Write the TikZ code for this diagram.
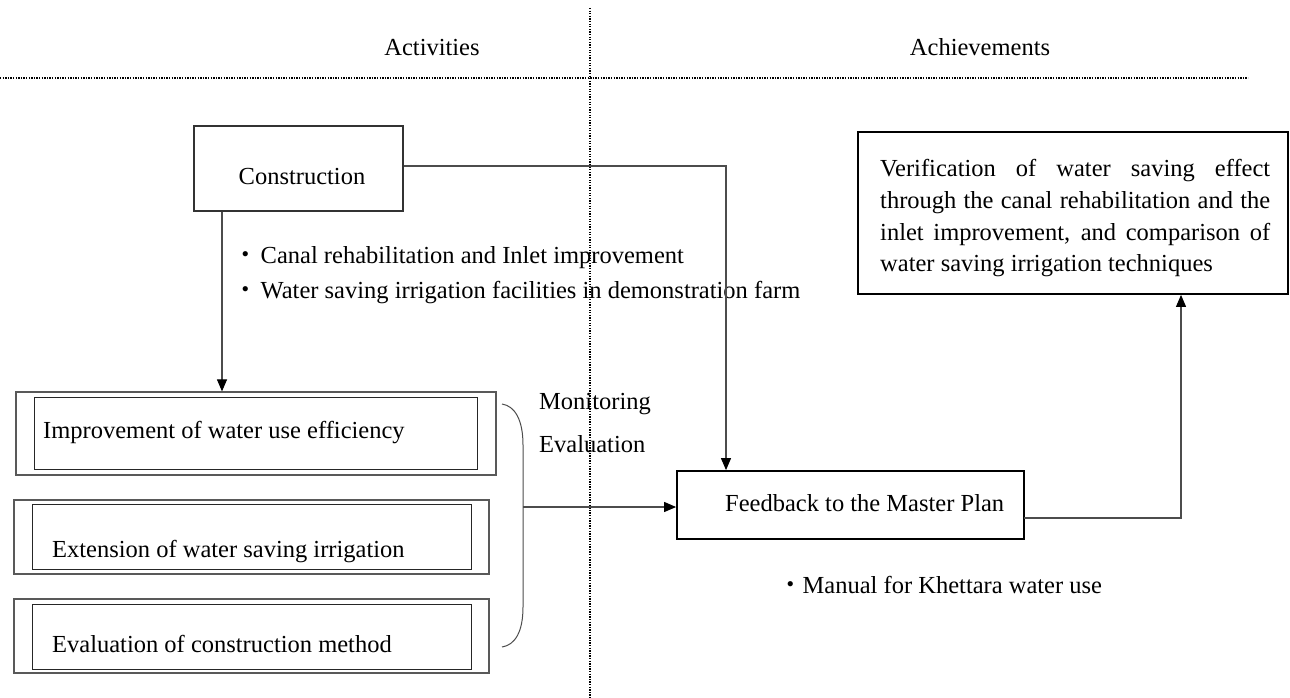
\documentclass[tikz,border=0pt]{standalone}
\usepackage{fontspec}
\setmainfont{Liberation Serif}
\newfontfamily\cjk{Noto Sans CJK JP}
\usetikzlibrary{arrows.meta}
\begin{document}
\begin{tikzpicture}[x=1pt,y=-1pt,
  txt/.style={font=\fontsize{24.5}{32}\selectfont, inner sep=0pt, text height=17pt, text depth=5pt},
  boxA/.style={draw=black!80, line width=1.1pt, inner sep=0pt},
  boxB/.style={draw=black, line width=1.8pt, inner sep=0pt},
  outerbox/.style={draw=black!65, line width=1.2pt, inner sep=0pt},
  innerbox/.style={draw=black!85, line width=1pt, inner sep=0pt},
  conn/.style={draw=black!70, line width=1.1pt},
  arr/.style={conn, -{Triangle[length=12pt,width=10pt,color=black,fill=black]}},
  sep/.style={line width=1.3pt, dash pattern=on 1.3pt off 1.3pt}]
\useasboundingbox (0,0) rectangle (1290,698);

% separators between the two columns
\coordinate (hl) at (0,78);
\coordinate (hr) at (1248,78);
\coordinate (vt) at (590,8);
\coordinate (vb) at (590,698);
\draw[sep] (hl) -- (hr);
\draw[sep] (vt) -- (vb);

% column headings
\node[txt] (hact) at (432,50) {Activities};
\node[txt] (hach) at (980,50) {Achievements};

% construction
\node[boxA, minimum width=209pt, minimum height=85pt] (constr) at (298.5,168.5) {};
\node[txt] (constrt) at (302,178) {Construction};

\node[txt, anchor=west] (b1) at (233,257) {{\cjk ・}\kern3pt Canal rehabilitation and Inlet improvement};
\node[txt, anchor=west] (b2) at (233,292) {{\cjk ・}\kern3pt Water saving irrigation facilities in demonstration farm};

% activity boxes (double frames)
\node[outerbox, minimum width=480pt, minimum height=83pt] (o1) at (256,433.5) {};
\node[innerbox, minimum width=443pt, minimum height=72pt] (i1) at (255.5,433) {};
\node[txt, anchor=west] (t1) at (43,432) {Improvement of water use efficiency};

\node[outerbox, minimum width=475pt, minimum height=74pt] (o2) at (251.5,537) {};
\node[innerbox, minimum width=439pt, minimum height=65pt] (i2) at (251.5,536.5) {};
\node[txt, anchor=west] (t2) at (52,551) {Extension of water saving irrigation};

\node[outerbox, minimum width=475pt, minimum height=74pt] (o3) at (251.5,636) {};
\node[innerbox, minimum width=439pt, minimum height=65pt] (i3) at (251.5,636.5) {};
\node[txt, anchor=west] (t3) at (52,646) {Evaluation of construction method};

% monitoring / evaluation
\node[txt, anchor=west] (mon) at (539,403) {Monitoring};
\node[txt, anchor=west] (eva) at (539,446) {Evaluation};

% feedback
\node[boxB, minimum width=347pt, minimum height=68pt] (fb) at (850.5,505) {};
\node[txt, anchor=west] (fbt) at (725,505) {Feedback to the Master Plan};
\node[txt, anchor=west] (man) at (778,587) {{\cjk ・}Manual for Khettara water use};

% verification
\node[boxB, minimum width=430pt, minimum height=162pt] (ver) at (1073,213) {};
\node[font=\fontsize{24.5}{31.8}\selectfont, inner sep=0pt, anchor=north west, align=left] (vert) at (880,159) {%
  \makebox[390pt][s]{Verification of water saving effect}\\
  \makebox[390pt][s]{through the canal rehabilitation and the}\\
  \makebox[390pt][s]{inlet improvement, and comparison of}\\
  water saving irrigation techniques};

% connectors
\coordinate (cx) at (222,0);
\coordinate (fx) at (726,0);
\coordinate (vx) at (1181,0);
\coordinate (bt) at (502,404);
\coordinate (bb) at (502,647);
\coordinate (bm) at (523,507);
\coordinate (fbo) at (1024,518);

\draw[arr] (constr.south -| cx) -- (o1.north -| cx);
\draw[arr] (constr.east |- 0,166) -| (fb.north -| fx);
\draw[conn, line width=1pt] (bt) .. controls (515,406) and (523,420) .. (523,445)
  -- (523,607) .. controls (523,632) and (515,645) .. (bb);
\draw[arr] (bm) -- (fb.west |- bm);
\draw[arr] (fbo) -| (ver.south -| vx);
\end{tikzpicture}
\end{document}
